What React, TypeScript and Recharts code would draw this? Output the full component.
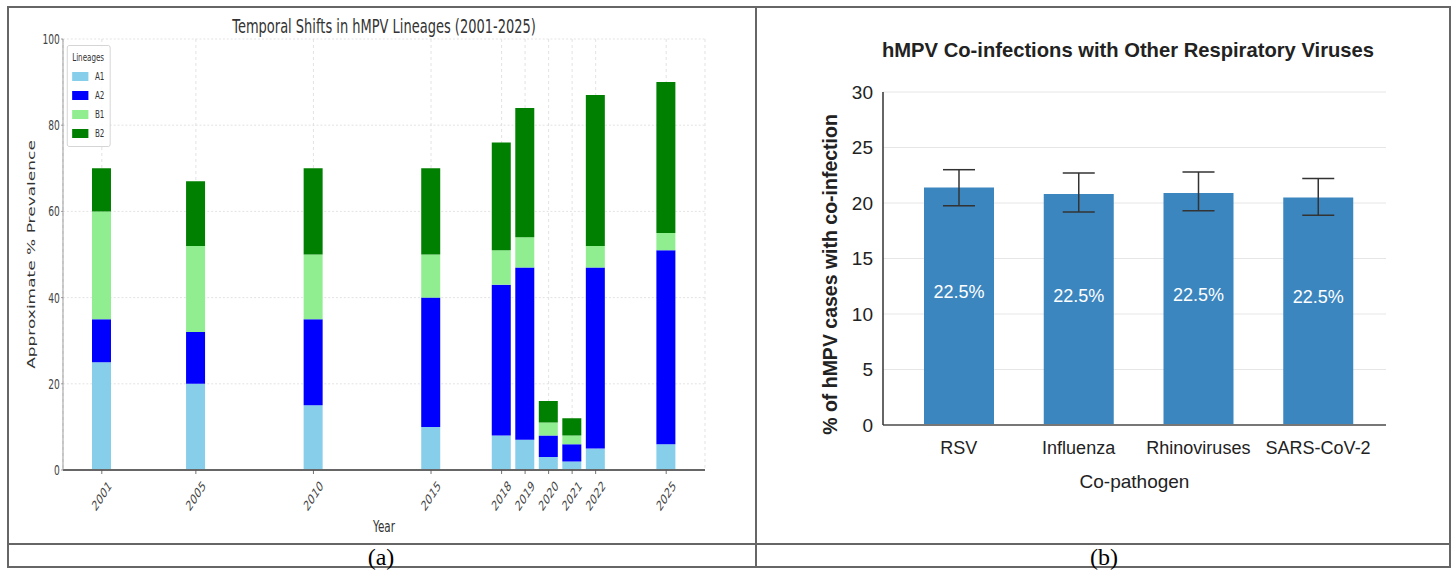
import React from "react";
import {
  Bar,
  BarChart,
  CartesianGrid,
  ErrorBar,
  LabelList,
  Legend,
  XAxis,
  YAxis,
} from "recharts";

// (a) lineage prevalence by year, stacked
const YEARS = [2001, 2005, 2010, 2015, 2018, 2019, 2020, 2021, 2022, 2025];
const A1 = [25, 20, 15, 10, 8, 7, 3, 2, 5, 6];
const A2 = [10, 12, 20, 30, 35, 40, 5, 4, 42, 45];
const B1 = [25, 20, 15, 10, 8, 7, 3, 2, 5, 4];
const B2 = [10, 15, 20, 20, 25, 30, 5, 4, 35, 35];
const PREV_TICKS = [0, 20, 40, 60, 80, 100];

// (b) co-infection share by co-pathogen
const PATHOGENS = ["RSV", "Influenza", "Rhinoviruses", "SARS-CoV-2"];
const COINF = [21.4, 20.8, 20.9, 20.5];
const ERR_LOW = [1.65, 1.6, 1.6, 1.6];
const ERR_HIGH = [1.6, 1.9, 1.9, 1.7];
const BAR_TEXT = ["22.5%", "22.5%", "22.5%", "22.5%"];
const COINF_TICKS = [0, 5, 10, 15, 20, 25, 30];

const lineageData = YEARS.map((year, i) => ({
  year,
  A1: A1[i],
  A2: A2[i],
  B1: B1[i],
  B2: B2[i],
}));

const coinfData = PATHOGENS.map((name, i) => ({
  name,
  value: COINF[i],
  err: [ERR_LOW[i], ERR_HIGH[i]],
  label: BAR_TEXT[i],
}));

// the left figure is horizontally squashed in the source, so draw it wide and squeeze it
const SQ = 0.65;
const LEFT_W = 755 / SQ;
const DV = "'DejaVu Sans', sans-serif";
const SANS = "'Liberation Sans', Arial, sans-serif";

function YearTick(props: any) {
  const { x, y, payload } = props;
  return (
    <g transform={`translate(${x},${y + 20})`}>
      <text
        transform="rotate(-45)"
        textAnchor="middle"
        dominantBaseline="central"
        fontSize={14}
        fill="#444"
        fontFamily={DV}
      >
        {payload.value}
      </text>
    </g>
  );
}

function LineageLegend(props: any) {
  const { payload } = props;
  return (
    <div
      style={{
        border: "1px solid #ccc",
        borderRadius: 3,
        background: "rgba(255,255,255,0.85)",
        padding: "4px 8px 3px 7px",
        fontFamily: DV,
        color: "#333",
      }}
    >
      <div style={{ fontSize: 11, lineHeight: "15px" }}>Lineages</div>
      <div style={{ marginTop: 2 }}>
        {(payload || []).map((p: any) => (
          <div key={p.value} style={{ display: "flex", alignItems: "center", height: 19, fontSize: 11 }}>
            <span style={{ width: 25, height: 9, background: p.color, marginRight: 10 }} />
            {p.value}
          </div>
        ))}
      </div>
    </div>
  );
}

function InsideLabel(props: any) {
  const { x, y, width, height, value } = props;
  return (
    <text
      x={x + width / 2}
      y={y + height / 2 - 14}
      textAnchor="middle"
      dominantBaseline="central"
      fill="#fff"
      fontSize={18}
      fontFamily={SANS}
    >
      {value}
    </text>
  );
}

function CoinfYLabel(props: any) {
  const { viewBox } = props;
  const cx = viewBox.x + viewBox.width / 2;
  const cy = viewBox.y + viewBox.height / 2 + 16;
  return (
    <text
      x={cx}
      y={cy}
      transform={`rotate(-90, ${cx}, ${cy})`}
      textAnchor="middle"
      dominantBaseline="central"
      fontSize={19.5}
      fontWeight={600}
      fill="#222"
      fontFamily={SANS}
    >
      % of hMPV cases with co-infection
    </text>
  );
}

export default function App() {
  const line = "#666";
  return (
    <div style={{ position: "absolute", left: 0, top: 0, width: 1453, height: 571, background: "#fff" }}>
      {/* (a) */}
      <div
        style={{
          position: "absolute",
          left: 0,
          top: 0,
          width: LEFT_W,
          height: 544,
          transform: `scaleX(${SQ})`,
          transformOrigin: "0 0",
        }}
      >
        <div
          style={{
            position: "absolute",
            left: 0,
            width: (384 / SQ) * 2,
            top: 13,
            textAlign: "center",
            fontFamily: DV,
            fontSize: 20,
            color: "#333",
            lineHeight: "26px",
          }}
        >
          Temporal Shifts in hMPV Lineages (2001-2025)
        </div>
        <BarChart
          width={LEFT_W}
          height={544}
          data={lineageData}
          margin={{ top: 39, right: LEFT_W - 705 / SQ, bottom: 0, left: 0 }}
        >
          <CartesianGrid stroke="#ddd" strokeDasharray="3 3" />
          <XAxis
            dataKey="year"
            type="number"
            domain={[1999.35, 2026.65]}
            ticks={YEARS}
            allowDataOverflow
            interval={0}
            height={74}
            tick={<YearTick />}
            tickSize={4}
            tickMargin={2}
            axisLine={{ stroke: "#666", strokeWidth: 2 }}
            tickLine={{ stroke: "#555" }}
            label={{ value: "Year", position: "insideBottom", offset: 12, fontSize: 16, fill: "#333", fontFamily: DV }}
          />
          <YAxis
            type="number"
            domain={[0, 100]}
            ticks={PREV_TICKS}
            width={63 / SQ}
            tickSize={3}
            tickMargin={2}
            tick={{ fontSize: 14, fill: "#444", fontFamily: DV }}
            axisLine={{ stroke: "#888" }}
            tickLine={{ stroke: "#888" }}
            label={{
              value: "Approximate % Prevalence",
              angle: -90,
              position: "center",
              fontSize: 17,
              fill: "#333",
              fontFamily: DV,
            }}
          />
          <Legend
            layout="vertical"
            verticalAlign="middle"
            align="center"
            content={<LineageLegend />}
            wrapperStyle={{ left: 103, top: 45, width: "auto" }}
          />
          <Bar dataKey="A1" name="A1" stackId="s" fill="#87CEEB" barSize={19 / SQ} isAnimationActive={false} />
          <Bar dataKey="A2" name="A2" stackId="s" fill="#0000FF" barSize={19 / SQ} isAnimationActive={false} />
          <Bar dataKey="B1" name="B1" stackId="s" fill="#90EE90" barSize={19 / SQ} isAnimationActive={false} />
          <Bar dataKey="B2" name="B2" stackId="s" fill="#008000" barSize={19 / SQ} isAnimationActive={false} />
        </BarChart>
      </div>

      {/* (b) */}
      <div style={{ position: "absolute", left: 757, top: 8, width: 693, height: 536 }}>
        <div
          style={{
            position: "absolute",
            left: 0,
            width: 371 * 2,
            top: 29,
            textAlign: "center",
            fontFamily: SANS,
            fontWeight: 700,
            fontSize: 20.2,
            color: "#222",
            lineHeight: "26px",
          }}
        >
          hMPV Co-infections with Other Respiratory Viruses
        </div>
        <BarChart
          width={693}
          height={536}
          data={coinfData}
          margin={{ top: 84, right: 64, bottom: 89, left: 20 }}
        >
          <CartesianGrid stroke="#e6e6e6" vertical={false} />
          <XAxis
            dataKey="name"
            padding={{ left: 16, right: 8 }}
            tickSize={0}
            tickMargin={16}
            tick={{ fontSize: 18, fill: "#222", fontFamily: SANS }}
            axisLine={{ stroke: "#777", strokeWidth: 2 }}
            height={30}
            label={{ value: "Co-pathogen", position: "bottom", offset: 20, fontSize: 19, fill: "#222", fontFamily: SANS }}
          />
          <YAxis
            type="number"
            domain={[0, 30]}
            ticks={COINF_TICKS}
            width={106}
            tickSize={0}
            tickMargin={10}
            tick={{ fontSize: 19, fill: "#222", fontFamily: SANS }}
            axisLine={{ stroke: "#333", strokeWidth: 1.5 }}
            label={<CoinfYLabel />}
          />
          <Bar dataKey="value" fill="#3B86BF" barSize={70} isAnimationActive={false}>
            <ErrorBar dataKey="err" width={16} stroke="#333" strokeWidth={1.5} direction="y" />
            <LabelList dataKey="label" content={<InsideLabel />} />
          </Bar>
        </BarChart>
      </div>

      {/* table frame */}
      <div style={{ position: "absolute", left: 7, top: 6, width: 1444, height: 562, border: `2px solid ${line}`, boxSizing: "border-box" }} />
      <div style={{ position: "absolute", left: 755, top: 6, width: 2, height: 562, background: line }} />
      <div style={{ position: "absolute", left: 7, top: 543, width: 1444, height: 2, background: line }} />
      <div style={{ position: "absolute", left: 7, top: 545, width: 748, height: 24, textAlign: "center", fontFamily: "'Liberation Serif', serif", fontSize: 24, lineHeight: "24px" }}>
        (a)
      </div>
      <div style={{ position: "absolute", left: 757, top: 545, width: 694, height: 24, textAlign: "center", fontFamily: "'Liberation Serif', serif", fontSize: 24, lineHeight: "24px" }}>
        (b)
      </div>
    </div>
  );
}
